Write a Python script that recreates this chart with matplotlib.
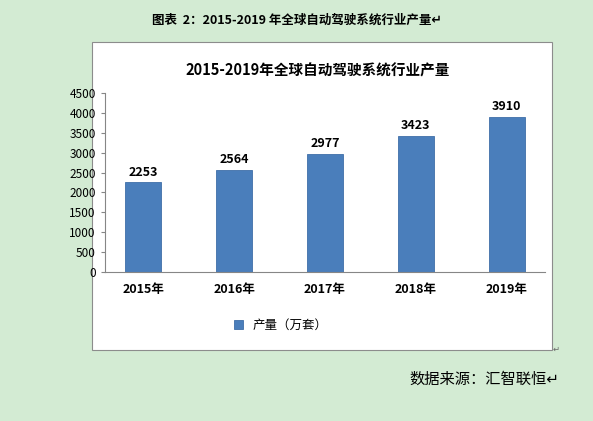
import matplotlib.pyplot as plt
from matplotlib.patches import Rectangle

plt.rcParams['font.family'] = ['Noto Sans CJK SC', 'DejaVu Sans']

years = ['2015年', '2016年', '2017年', '2018年', '2019年']
output = [2253, 2564, 2977, 3423, 3910]
yticks = list(range(0, 4501, 500))

fig = plt.figure(figsize=(5.93, 4.21), dpi=100)
fig.patch.set_facecolor('#d3ebd3')

# white chart box
fig.patches.append(Rectangle((0.155, 0.169), 0.776, 0.732, transform=fig.transFigure,
                             facecolor='white', edgecolor='#8c8c8c', linewidth=0.8, zorder=-1))

ax = fig.add_axes([0.177, 0.354, 0.742, 0.425])
ax.set_zorder(2)
ax.set_facecolor('white')
bars = ax.bar(years, output, width=0.4, color='#4a7ebb', edgecolor='#3f6fa8', linewidth=0.6,
              label='产量（万套）')
for b, v in zip(bars, output):
    ax.text(b.get_x() + b.get_width() / 2, v + 90, str(v), ha='center', va='bottom',
            fontsize=9, fontweight='bold')

ax.set_ylim(0, 4500)
ax.set_yticks(yticks)
ax.tick_params(axis='y', labelsize=8.5, length=3, color='#868686')
ax.tick_params(axis='x', labelsize=9, length=0, pad=8)
for lbl in ax.get_xticklabels():
    lbl.set_fontweight('bold')
for s in ['top', 'right']:
    ax.spines[s].set_visible(False)
for s in ['left', 'bottom']:
    ax.spines[s].set_color('#868686')

ax.legend(loc='upper center', bbox_to_anchor=(0.4, -0.2), frameon=False, fontsize=9,
          handlelength=0.7, handleheight=0.7)

fig.text(0.535, 0.833, '2015-2019年全球自动驾驶系统行业产量', ha='center', va='center',
         fontsize=10.5, fontweight='bold')
fig.text(0.5, 0.952, '图表  2：2015-2019 年全球自动驾驶系统行业产量↵', ha='center', va='center',
         fontsize=9, fontweight='bold', family=['Noto Sans CJK SC', 'DejaVu Sans'])
fig.text(0.155 + 0.776, 0.17, '↵', ha='left', va='center', fontsize=6, color='#666666',
         family=['DejaVu Sans'])
fig.text(0.69, 0.1, '数据来源：汇智联恒↵', ha='left', va='center', fontsize=11,
         family=['Noto Sans CJK SC', 'DejaVu Sans'])

fig.savefig('out.png', dpi=100, facecolor=fig.get_facecolor())
